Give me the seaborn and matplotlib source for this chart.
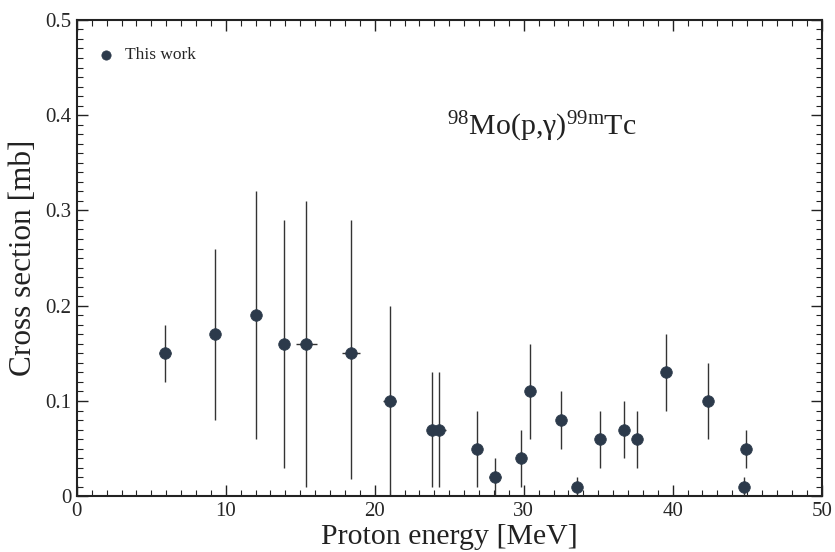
import matplotlib
matplotlib.use("Agg")
import matplotlib.pyplot as plt
import seaborn as sns
import numpy as np
import pandas as pd
from matplotlib.ticker import MultipleLocator

# Data
energy = [5.9, 9.3, 12.0, 13.9, 15.4, 18.4, 21.0, 23.85, 24.3, 26.85, 28.05,
          29.8, 30.45, 32.5, 33.6, 35.1, 36.7, 37.6, 39.55, 42.35, 44.9, 44.8]
xsec = [0.15, 0.17, 0.19, 0.16, 0.16, 0.15, 0.10, 0.07, 0.07, 0.05, 0.02,
        0.04, 0.11, 0.08, 0.01, 0.06, 0.07, 0.06, 0.13, 0.10, 0.05, 0.01]
xsec_low = [0.12, 0.08, 0.06, 0.03, 0.01, 0.018, 0.0, 0.01, 0.01, 0.01, 0.0,
            0.01, 0.06, 0.05, 0.0, 0.03, 0.04, 0.03, 0.09, 0.06, 0.03, 0.0]
xsec_high = [0.18, 0.26, 0.32, 0.29, 0.31, 0.29, 0.20, 0.13, 0.13, 0.09, 0.04,
             0.07, 0.16, 0.11, 0.02, 0.09, 0.10, 0.09, 0.17, 0.14, 0.07, 0.02]
energy_err = [0.4, 0, 0, 0, 0.7, 0.6, 0.45, 0, 0.45, 0, 0.4,
              0, 0, 0, 0, 0, 0, 0, 0, 0, 0, 0]

df = pd.DataFrame({"Proton energy [MeV]": energy, "Cross section [mb]": xsec})

sns.set_style("ticks")
plt.rcParams['font.family'] = ['Liberation Serif', 'DejaVu Serif']
plt.rcParams['mathtext.fontset'] = 'custom'
plt.rcParams['mathtext.rm'] = 'Liberation Serif'
plt.rcParams['mathtext.it'] = 'Liberation Serif:italic'

fig = plt.figure(figsize=(8.35, 5.52), dpi=100)
ax = fig.add_axes([0.092, 0.101, 0.892, 0.863])

y = np.array(xsec)
yerr = np.vstack([y - np.array(xsec_low), np.array(xsec_high) - y])
ax.errorbar(energy, xsec, yerr=yerr, xerr=energy_err, fmt='none',
            ecolor='#333333', elinewidth=1.0, capsize=0, zorder=2)
sns.scatterplot(data=df, x="Proton energy [MeV]", y="Cross section [mb]", ax=ax,
                color='#2c3a4b', s=70, edgecolor='#2c3a4b', linewidth=0.5,
                zorder=3, label='This work')

ax.set_xlim(0, 50)
ax.set_ylim(0, 0.5)
ax.xaxis.set_major_locator(MultipleLocator(10))
ax.xaxis.set_minor_locator(MultipleLocator(1))
ax.yaxis.set_major_locator(MultipleLocator(0.1))
ax.yaxis.set_minor_locator(MultipleLocator(0.01))
ax.set_yticks([0, 0.1, 0.2, 0.3, 0.4, 0.5])
ax.set_yticklabels(['0', '0.1', '0.2', '0.3', '0.4', '0.5'])
ax.tick_params(which='both', direction='in', top=True, right=True, color='#222222')
ax.tick_params(which='major', length=8, width=1.0, labelsize=15, pad=4)
ax.tick_params(which='minor', length=4, width=0.8)
for s in ax.spines.values():
    s.set_linewidth(1.5)
    s.set_color('#222222')

ax.set_xlabel("Proton energy [MeV]", fontsize=21.5, labelpad=2, color='#222222')
ax.set_ylabel("Cross section [mb]", fontsize=22.5, labelpad=5, color='#222222')

ax.text(0.497, 0.74, "$^{98}$Mo(p,γ)$^{99\\mathrm{m}}$Tc", transform=ax.transAxes,
        fontsize=21.5, ha='left', va='bottom', color='#222222')

leg = ax.legend(loc='upper left', frameon=False, fontsize=12.5, handletextpad=0.1,
                borderaxespad=0.6, markerscale=0.8, bbox_to_anchor=(-0.008, 0.979))

fig.savefig("out.png", dpi=100)
